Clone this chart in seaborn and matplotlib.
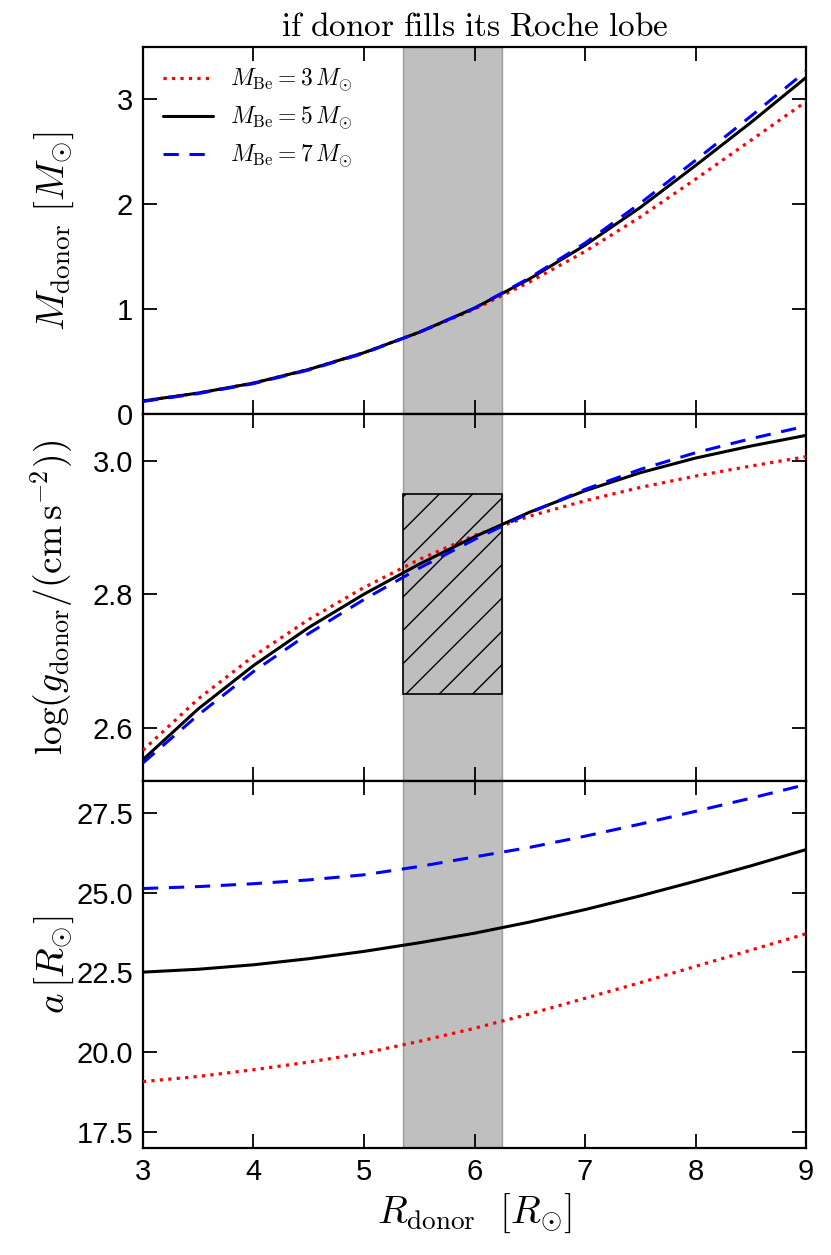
import numpy as np
import pandas as pd
import matplotlib
matplotlib.use("Agg")
import matplotlib.pyplot as plt
import seaborn as sns
from matplotlib.patches import Rectangle

# ---- data ----
r_donor = [3.0, 3.5, 4.0, 4.5, 5.0, 5.5, 6.0, 6.5, 7.0, 7.5, 8.0, 8.5, 9.0]
m_be_labels = [r'$M_{\rm Be} = 3\,M_{\odot}$', r'$M_{\rm Be} = 5\,M_{\odot}$', r'$M_{\rm Be} = 7\,M_{\odot}$']

mdonor_3 = [0.125, 0.20, 0.295, 0.425, 0.585, 0.78, 1.00, 1.26, 1.55, 1.88, 2.24, 2.61, 2.98]
mdonor_5 = [0.125, 0.20, 0.295, 0.425, 0.585, 0.78, 1.01, 1.29, 1.61, 1.97, 2.37, 2.78, 3.21]
mdonor_7 = [0.12, 0.195, 0.29, 0.42, 0.58, 0.78, 1.01, 1.30, 1.63, 2.01, 2.42, 2.84, 3.27]

logg_3 = [2.566, 2.643, 2.707, 2.762, 2.810, 2.852, 2.888, 2.917, 2.940, 2.960, 2.977, 2.992, 3.006]
logg_5 = [2.552, 2.628, 2.693, 2.750, 2.800, 2.845, 2.886, 2.923, 2.955, 2.982, 3.004, 3.022, 3.038]
logg_7 = [2.547, 2.619, 2.684, 2.741, 2.792, 2.839, 2.882, 2.922, 2.957, 2.987, 3.012, 3.033, 3.052]

a_3 = [19.08, 19.24, 19.45, 19.69, 19.97, 20.34, 20.75, 21.20, 21.69, 22.18, 22.69, 23.20, 23.71]
a_5 = [22.51, 22.60, 22.74, 22.93, 23.16, 23.43, 23.73, 24.08, 24.47, 24.90, 25.36, 25.84, 26.35]
a_7 = [25.13, 25.19, 25.28, 25.40, 25.56, 25.82, 26.12, 26.42, 26.77, 27.15, 27.55, 27.96, 28.39]

band_range = [5.35, 6.25]
logg_box = [2.65, 2.95]

# ---- style ----
sns.set_style("ticks")
plt.rcParams['font.family'] = ['Liberation Sans', 'DejaVu Sans']
plt.rcParams['mathtext.fontset'] = 'cm'
plt.rcParams['axes.linewidth'] = 1.6
plt.rcParams['axes.edgecolor'] = 'black'
plt.rcParams['xtick.color'] = 'black'
plt.rcParams['ytick.color'] = 'black'
plt.rcParams['axes.labelcolor'] = 'black'
plt.rcParams['text.color'] = 'black'
plt.rcParams['hatch.linewidth'] = 1.0

fig = plt.figure(figsize=(8.31, 12.55), dpi=100)
gs = fig.add_gridspec(3, 1, left=0.172, right=0.970, top=0.9625, bottom=0.0853, hspace=0)
axes = [fig.add_subplot(gs[i]) for i in range(3)]

colors = ['red', 'black', 'blue']
styles = [dict(linestyle=':', lw=2.3), dict(linestyle='-', lw=2.2), dict(linestyle=(0, (5, 3.5)), lw=2.2)]

series = [
    (mdonor_3, mdonor_5, mdonor_7),
    (logg_3, logg_5, logg_7),
    (a_3, a_5, a_7),
]

for i, ax in enumerate(axes):
    ax.axvspan(band_range[0], band_range[1], facecolor='0.5', edgecolor='0.35', alpha=0.5, lw=1.0, zorder=0)
    for j in range(3):
        df = pd.DataFrame({'R': r_donor, 'y': series[i][j]})
        sns.lineplot(data=df, x='R', y='y', ax=ax, color=colors[j],
                     label=m_be_labels[j] if i == 0 else None, zorder=3, **styles[j])
    ax.set_xlim(3, 9)
    ax.set_xticks([3, 4, 5, 6, 7, 8, 9])
    ax.tick_params(direction='in', which='major', length=10, width=1.3,
                   top=True, right=True, labelsize=21, pad=7)
    for s in ax.spines.values():
        s.set_linewidth(1.6)
    if i < 2:
        ax.set_xticklabels([])
        ax.set_xlabel('')

# hatched box in middle panel
rect = Rectangle((band_range[0], logg_box[0]), band_range[1] - band_range[0], logg_box[1] - logg_box[0],
                 facecolor='#bebebe', edgecolor='black', hatch='/', lw=1.2, zorder=2)
axes[1].add_patch(rect)

axes[0].set_ylim(0, 3.5)
axes[0].set_yticks([0, 1, 2, 3])
axes[1].set_ylim(2.52, 3.07)
axes[1].set_yticks([2.6, 2.8, 3.0])
axes[1].set_yticklabels(['2.6', '2.8', '3.0'])
axes[2].set_ylim(17.0, 28.5)
axes[2].set_yticks([17.5, 20.0, 22.5, 25.0, 27.5])
axes[2].set_yticklabels(['17.5', '20.0', '22.5', '25.0', '27.5'])

axes[0].set_ylabel(r'$M_{\rm donor}\ [M_{\odot}]$', fontsize=28, labelpad=0)
axes[1].set_ylabel(r'$\log(g_{\rm donor}/({\rm cm\,s^{-2}}))$', fontsize=27, labelpad=0)
axes[2].set_ylabel(r'$a\,[R_{\odot}]$', fontsize=28, labelpad=0)
axes[2].set_xlabel(r'$R_{\rm donor}\ \ [R_{\odot}]$', fontsize=28)
axes[0].set_title(r'$\mathrm{if\ donor\ fills\ its\ Roche\ lobe}$', fontsize=24, pad=8)

leg = axes[0].legend(loc='upper left', frameon=False, fontsize=17, handlelength=2.1,
                     borderaxespad=0.45, labelspacing=0.45, handletextpad=0.75)

fig.align_ylabels(axes)
fig.savefig('out.png', dpi=100)
